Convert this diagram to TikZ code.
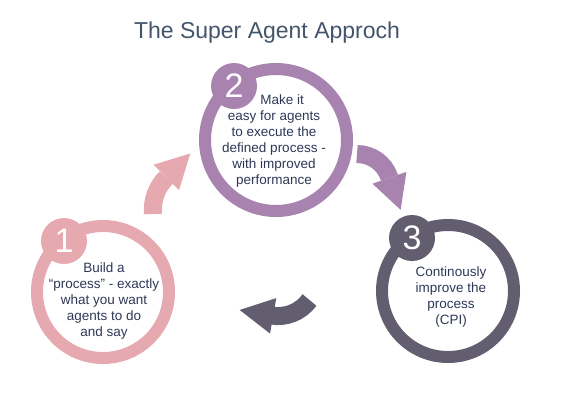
\documentclass[tikz,border=0pt]{standalone}
\usepackage{fontspec}
\setmainfont{Liberation Sans}
\usepackage{tikz}
\usetikzlibrary{arrows.meta,positioning}
\definecolor{heading}{HTML}{44546A}
\definecolor{ink}{HTML}{2E3756}
\definecolor{rose}{HTML}{E6A9AF}
\definecolor{lilac}{HTML}{A983B0}
\definecolor{slate}{HTML}{625E6F}

\tikzset{
  ring/.style={circle, draw=#1, line width=12pt, inner sep=0pt},
  badge/.style={circle, fill=#1, minimum size=46pt, inner sep=0pt,
    text=white, font=\fontsize{34}{34}\selectfont},
  bodytext/.style={align=center, text=ink, font=\fontsize{13.5}{16}\selectfont},
  bendarrow/.style={draw=#1, line width=18pt,
    -{Triangle[length=34pt, width=36pt, line width=0pt]}}
}

\begin{document}
\begin{tikzpicture}[x=1pt, y=1pt]
  \useasboundingbox (0,0) rectangle (567,-400);

  % title
  \node[text=heading, font=\fontsize{23}{23}\selectfont] (title) at (267,-33)
    {The Super Agent Approch};

  % rings
  \node[ring=rose, minimum size=132pt] (ring1) at (103,-292) {};
  \node[ring=lilac, minimum size=142pt] (ring2) at (276,-140) {};
  \node[ring=slate, minimum size=132pt] (ring3) at (448,-291) {};

  % numbers
  \node[badge=rose] (num1) at (64,-241) {1};
  \node[badge=lilac] (num2) at (234,-86) {2};
  \node[badge=slate] (num3) at (412,-238) {3};

  % texts
  \node[bodytext] (txt1) at (104,-301)
    {Build a\\``process'' - exactly\\what you want\\agents to do\\and say};
  \node[bodytext] (txt2) at (274,-141)
    {\hspace*{1.2em}Make it\\easy for agents\\to execute the\\defined process -\\with improved\\performance};
  \node[bodytext] (txt3) at (451,-297)
    {Continously\\improve the\\process\\(CPI)};

  % arrows between the steps
  \draw[bendarrow=rose] (153,-214) arc[start angle=185, end angle=135, radius=46]
    -- ++(45:34);
  \draw[bendarrow=lilac] (357,-154) arc[start angle=90, end angle=19.2, radius=34]
    -- ++(-70.8:35);
  \draw[bendarrow=slate] (309.5,-300) arc[start angle=324, end angle=260, radius=39]
    -- ++(170:32);
\end{tikzpicture}
\end{document}
